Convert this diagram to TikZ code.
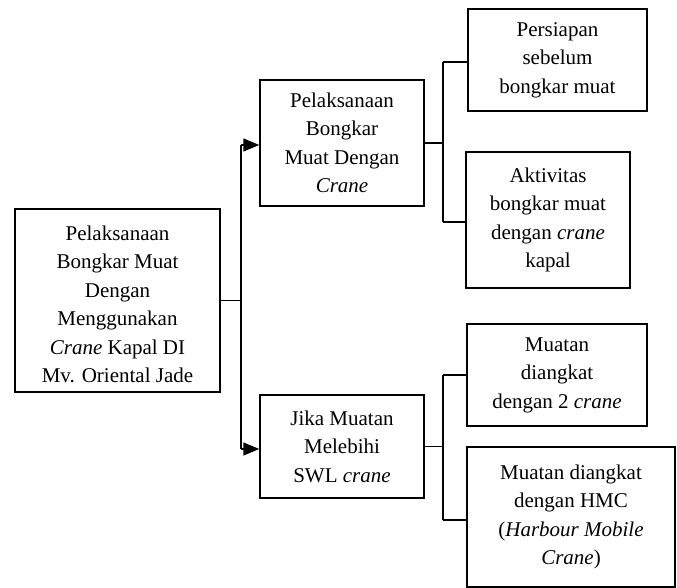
\documentclass[tikz,border=0pt]{standalone}
\usepackage{fontspec}
\setmainfont{Liberation Serif}
\usetikzlibrary{arrows.meta}
\tikzset{
  box/.style={draw, line width=1.5pt, rectangle, inner sep=0pt, align=center,
    font=\fontsize{21}{28.5}\selectfont},
  conn/.style={line width=1.5pt},
  arr/.style={line width=1.5pt, -{Triangle[length=16pt,width=13pt]}}
}
\begin{document}
\begin{tikzpicture}[x=1pt,y=-1pt]
\useasboundingbox (0,0) rectangle (677,588);
\node[box, minimum width=205pt, minimum height=183pt] (root) at (117.5,300.5)
  {\rule{0pt}{22pt}Pelaksanaan\\Bongkar Muat\\Dengan\\Menggunakan\\\textit{Crane} Kapal DI\\Mv. Oriental Jade};
\node[box, minimum width=164pt, minimum height=126pt] (b1) at (342,143)
  {Pelaksanaan\\Bongkar\\Muat Dengan\\\textit{Crane}};
\node[box, minimum width=164pt, minimum height=103pt] (b2) at (342,446.5)
  {Jika Muatan\\Melebihi\\SWL \textit{crane}};
\node[box, minimum width=179pt, minimum height=102pt] (a1) at (557.5,60)
  {Persiapan\\sebelum\\bongkar muat};
\node[box, minimum width=164pt, minimum height=136pt] (a2) at (548,220)
  {Aktivitas\\bongkar muat\\dengan \textit{crane}\\kapal};
\node[box, minimum width=180pt, minimum height=102pt] (c1) at (557,375)
  {Muatan\\diangkat\\dengan 2 \textit{crane}};
\node[box, minimum width=208pt, minimum height=140pt] (c2) at (571,517)
  {Muatan diangkat\\dengan HMC\\(\textit{Harbour Mobile}\\\textit{Crane})};
\coordinate (tA) at (241,145);
\coordinate (tB) at (241,449);
\coordinate (uA) at (443,62);
\coordinate (uB) at (443,222);
\coordinate (vA) at (443,375);
\coordinate (vB) at (443,520);
\draw[conn] (root.east) -- (root.east -| tA);
\draw[conn] (tA) -- (tB);
\draw[arr] (tA) -- (tA -| b1.west);
\draw[arr] (tB) -- (tB -| b2.west);
\draw[conn] (b1.east) -- (b1.east -| uA);
\draw[conn] (uA) -- (uB);
\draw[conn] (uA) -- (uA -| a1.west);
\draw[conn] (uB) -- (uB -| a2.west);
\draw[conn] (b2.east) -- (b2.east -| vA);
\draw[conn] (vA) -- (vB);
\draw[conn] (vA) -- (vA -| c1.west);
\draw[conn] (vB) -- (vB -| c2.west);
\end{tikzpicture}
\end{document}
